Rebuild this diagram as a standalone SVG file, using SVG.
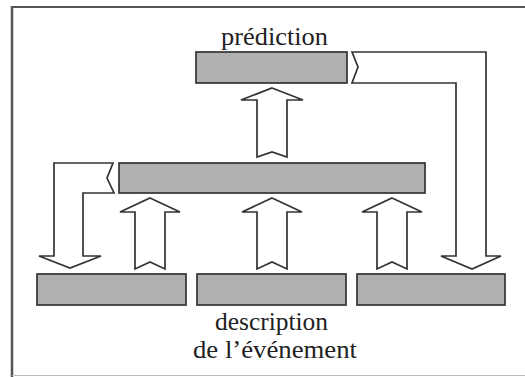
<svg xmlns="http://www.w3.org/2000/svg" width="525" height="377" viewBox="0 0 525 377">
<style>
.bar{fill:#b0b0b0;stroke:#333;stroke-width:1.7}
.arr{fill:#ffffff;stroke:#333;stroke-width:1.7;stroke-linejoin:miter}
.lbl{font-family:"Liberation Serif","Times New Roman",serif;font-size:25px;fill:#222}
</style>
<rect width="525" height="377" fill="#ffffff"/>
<g id="frame">
<line x1="12" y1="7" x2="525" y2="7" stroke="#555" stroke-width="2"/>
<line x1="12" y1="6" x2="12" y2="377" stroke="#555" stroke-width="2.5"/>
<line x1="12" y1="375.5" x2="525" y2="375.5" stroke="#bbb" stroke-width="1"/>
</g>
<g id="connectors">
<polygon class="arr" points="352,52 486,52 486,256 501,256 472,269 441,256 456,256 456,83 352,83 358,67"/>
<polygon class="arr" points="113,163 54,163 54,256 39,256 70,268 101,256 83,256 83,193 114,193 107,178"/>
<polygon class="arr" points="272,88 303,100 287,100 287,157 272,152 257,157 257,100 241,100"/>
<polygon class="arr" points="150,198 180,212 165,212 165,269 150,262 135,269 135,212 120,212"/>
<polygon class="arr" points="272,198 302,212 287,212 287,269 272,262 257,269 257,212 242,212"/>
<polygon class="arr" points="392,198 422,212 407,212 407,269 392,262 377,269 377,212 362,212"/>
</g>
<g id="prediction">
<rect class="bar" x="196" y="52" width="151" height="31"/>
<text class="lbl" x="221" y="45" textLength="107" lengthAdjust="spacingAndGlyphs">prédiction</text>
</g>
<g id="middle">
<rect class="bar" x="119" y="163" width="306" height="30"/>
</g>
<g id="bottom1">
<rect class="bar" x="37" y="274" width="149" height="31"/>
</g>
<g id="bottom2">
<rect class="bar" x="197" y="274" width="149" height="31"/>
</g>
<g id="bottom3">
<rect class="bar" x="357" y="274" width="148" height="31"/>
</g>
<g id="description">
<text class="lbl" x="215" y="330" textLength="113" lengthAdjust="spacingAndGlyphs">description</text>
<text class="lbl" x="193" y="357.5" textLength="164" lengthAdjust="spacingAndGlyphs">de l’événement</text>
</g>
</svg>
